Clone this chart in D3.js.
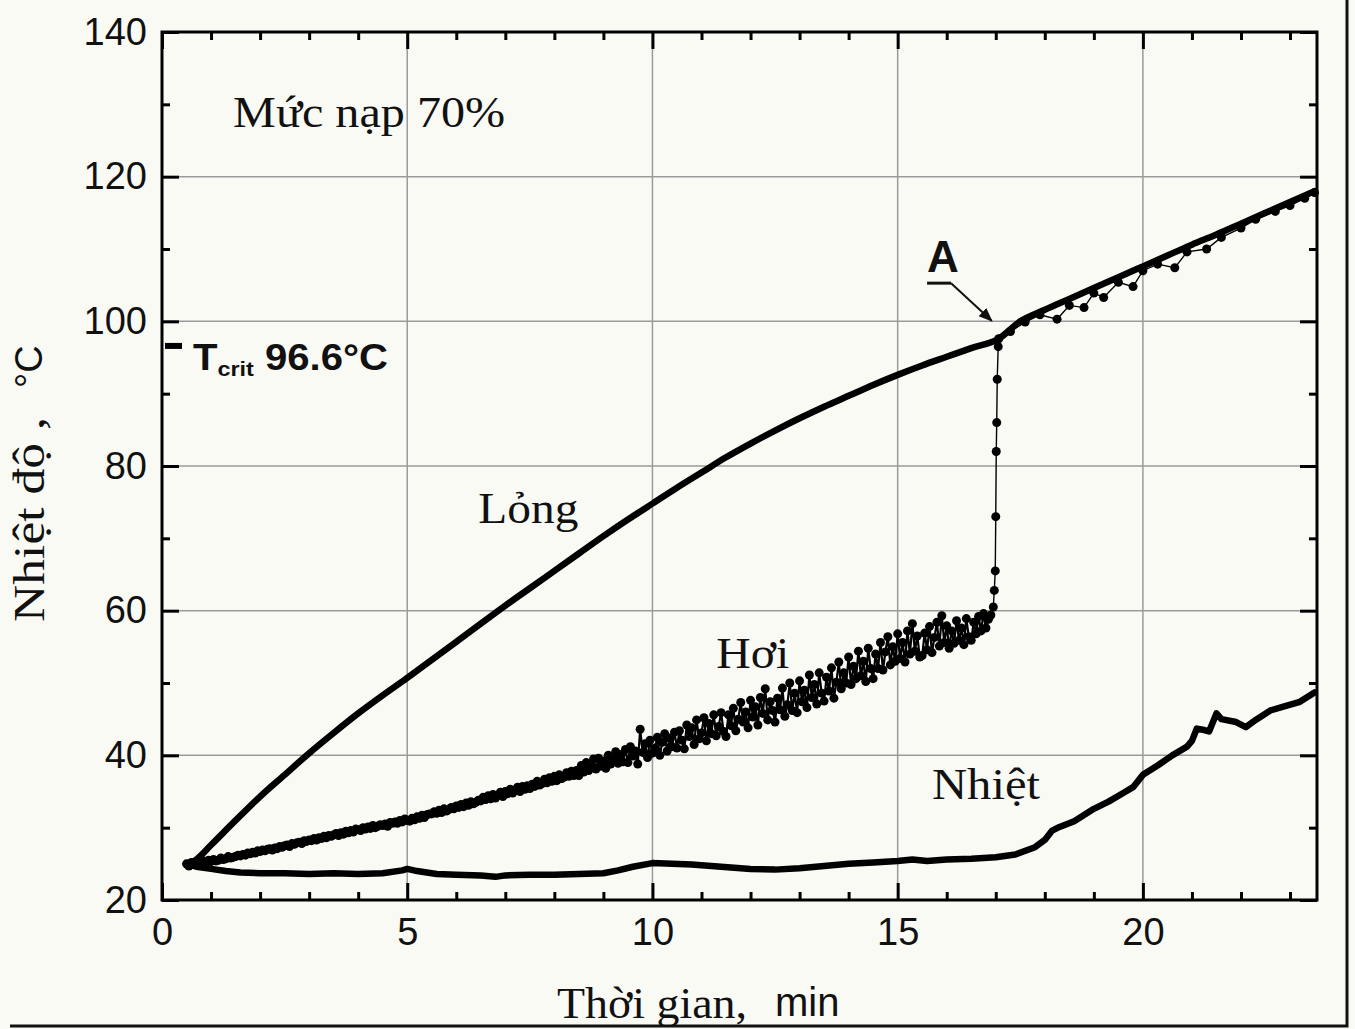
<!DOCTYPE html>
<html>
<head>
<meta charset="utf-8">
<script src="https://cdn.jsdelivr.net/npm/d3@7"></script>
<style>
  body { margin: 0; background: #fafaf5; }
  svg { display: block; }
</style>
</head>
<body>
<div id="viz"></div>
<script>
// ---- data ----
const xTicks = [0, 5, 10, 15, 20]
const yTicks = [20, 40, 60, 80, 100, 120, 140]

// Lỏng (liquid) temperature, [min, °C]
const liquid = [
  [0.5, 24.8], [0.7, 25.6], [1.0, 27.6], [1.5, 31.0], [2.0, 34.3], [2.5, 37.3], [3.0, 40.3],
  [3.5, 43.1], [4.0, 45.8], [4.5, 48.3], [5.0, 50.7], [5.5, 53.2], [6.0, 55.7], [6.5, 58.2],
  [7.0, 60.7], [7.5, 63.1], [8.0, 65.5], [8.5, 67.9], [9.0, 70.3], [9.5, 72.6], [10.0, 74.8],
  [10.5, 77.0], [11.0, 79.1], [11.5, 81.2], [12.0, 83.1], [12.5, 84.9], [13.0, 86.6],
  [13.5, 88.2], [14.0, 89.7], [14.5, 91.2], [15.0, 92.6], [15.5, 93.9], [16.0, 95.1],
  [16.5, 96.3], [17.06, 97.6], [17.5, 100.0], [18.0, 101.6], [18.5, 103.1], [19.0, 104.6],
  [19.5, 106.1], [20.0, 107.6], [20.5, 109.1], [21.0, 110.6], [21.5, 112.0], [22.0, 113.5],
  [22.5, 115.0], [23.0, 116.5], [23.5, 118.0]
]

// Nhiệt (heater) temperature
const heater = [
  [0.5, 25.0], [0.7, 24.6], [1.0, 24.3], [1.3, 24.0], [1.6, 23.8], [2.0, 23.7], [2.5, 23.7],
  [3.0, 23.6], [3.5, 23.7], [4.0, 23.6], [4.5, 23.7], [4.9, 24.1], [5.0, 24.3], [5.2, 24.0],
  [5.6, 23.6], [6.0, 23.5], [6.5, 23.4], [6.8, 23.2], [7.0, 23.4], [7.5, 23.5], [8.0, 23.5],
  [8.5, 23.6], [9.0, 23.7], [9.3, 24.1], [9.6, 24.6], [10.0, 25.1], [10.4, 25.0], [10.8, 24.9],
  [11.2, 24.7], [11.6, 24.5], [12.0, 24.3], [12.5, 24.2], [13.0, 24.4], [13.5, 24.7],
  [14.0, 25.0], [14.5, 25.2], [15.0, 25.4], [15.3, 25.6], [15.6, 25.4], [16.0, 25.6],
  [16.5, 25.7], [17.0, 25.9], [17.4, 26.3], [17.8, 27.3], [18.0, 28.3], [18.15, 29.6],
  [18.3, 30.1], [18.6, 30.9], [19.0, 32.6], [19.3, 33.6], [19.6, 34.8], [19.8, 35.6],
  [20.0, 37.3], [20.3, 38.6], [20.6, 40.0], [20.9, 41.2], [21.0, 42.0], [21.1, 43.7],
  [21.25, 43.5], [21.35, 43.3], [21.5, 45.8], [21.6, 45.0], [21.9, 44.6], [22.1, 43.9],
  [22.3, 44.9], [22.6, 46.2], [22.9, 46.8], [23.2, 47.4], [23.5, 48.7]
]

// Hơi (vapour) samples every 0.05 min from 0.5 to 16.9 min (one row per minute)
const vaporStart = 0.5
const vaporStep = 0.05
const vaporValues = [
  25.0, 24.7, 25.2, 24.9, 25.1, 25.3, 25.0, 25.4, 25.2, 25.5, 25.3, 25.6, 25.4, 25.5, 25.8, 25.6, 25.7, 26.0, 25.8, 25.9,
  26.0, 26.2, 26.1, 26.3, 26.2, 26.5, 26.4, 26.6, 26.5, 26.8, 26.7, 26.9, 26.8, 27.0, 27.1, 26.9, 27.2, 27.1, 27.4, 27.3,
  27.5, 27.6, 27.4, 27.8, 27.7, 27.9, 28.0, 27.8, 28.2, 28.1, 28.3, 28.2, 28.5, 28.3, 28.6, 28.5, 28.8, 28.6, 28.9, 28.8,
  29.0, 29.2, 28.9, 29.3, 29.1, 29.5, 29.3, 29.6, 29.4, 29.8, 29.7, 29.6, 30.0, 29.8, 30.1, 29.9, 30.3, 30.0, 30.2, 30.4,
  30.3, 30.5, 30.2, 30.7, 30.6, 30.8, 30.6, 31.0, 30.8, 31.2, 31.0, 30.9, 31.3, 31.1, 31.5, 31.3, 31.7, 31.4, 31.8, 31.9,
  31.9, 32.2, 32.0, 32.4, 32.1, 32.6, 32.3, 32.5, 32.8, 32.6, 33.0, 32.8, 33.2, 32.9, 33.4, 33.1, 33.6, 33.3, 33.5, 33.8,
  33.7, 34.2, 33.9, 34.4, 34.0, 34.6, 34.1, 34.5, 34.9, 34.3, 35.0, 34.7, 35.3, 34.8, 35.2, 35.6, 35.0, 35.7, 35.3, 35.8,
  35.4, 36.0, 35.7, 36.4, 35.9, 36.1, 36.7, 36.2, 36.9, 36.4, 37.1, 36.5, 37.3, 36.8, 37.0, 37.6, 37.1, 37.8, 37.2, 37.9,
  37.2, 38.6, 37.7, 39.0, 37.9, 38.4, 39.5, 38.1, 39.6, 38.5, 39.2, 38.2, 40.0, 38.8, 39.5, 40.5, 38.9, 40.1, 39.1, 40.8,
  39.0, 41.2, 39.9, 40.6, 38.8, 43.6, 40.4, 41.6, 39.7, 42.1, 40.3, 41.0, 42.5, 40.0, 41.8, 43.0, 40.6, 42.4, 41.2, 43.2,
  41.0, 43.4, 42.1, 40.9, 44.2, 42.6, 43.8, 41.5, 44.9, 42.3, 43.1, 45.2, 42.0, 44.4, 43.0, 45.6, 42.7, 44.0, 45.9, 43.3,
  42.6, 45.6, 44.1, 46.5, 43.4, 45.0, 47.3, 44.6, 46.0, 43.8, 47.6, 45.3, 46.7, 44.2, 48.0, 45.8, 49.2, 44.9, 47.4, 46.2,
  44.6, 47.9, 46.3, 49.3, 45.4, 47.0, 50.0, 46.2, 48.6, 45.9, 50.3, 47.4, 49.0, 46.6, 51.1, 48.0, 49.8, 47.1, 51.4, 48.6,
  47.5, 50.8, 48.9, 52.1, 47.9, 50.1, 52.9, 49.2, 51.4, 50.0, 53.6, 49.8, 52.3, 50.6, 54.4, 51.0, 53.0, 50.2, 54.8, 52.0,
  50.6, 54.0, 52.0, 55.6, 51.8, 54.3, 56.4, 52.5, 55.0, 53.0, 56.8, 53.4, 55.6, 52.9, 57.2, 54.0, 58.2, 54.4, 56.5, 53.6,
  53.8, 56.9, 54.6, 57.8, 54.2, 56.3, 58.4, 55.1, 59.3, 55.6, 57.9, 54.8, 57.2, 55.5, 58.6, 55.9, 57.6, 55.3, 58.9, 56.4,
  55.9, 58.4, 56.8, 59.2, 57.2, 59.6, 57.6, 58.8, 59.4
]
// the jump at point A and the vapour after it
const vaporJump = [
  [16.95, 60.5], [16.97, 62.8], [16.99, 65.5], [17.0, 73.0], [17.01, 82.0], [17.02, 86.0],
  [17.03, 92.0], [17.05, 96.5], [17.06, 97.6]
]
const vaporAfter = [
  [17.3, 98.6], [17.6, 99.9], [17.9, 100.9], [18.25, 100.3], [18.5, 102.2], [18.8, 101.9],
  [19.0, 103.9], [19.2, 103.3], [19.5, 105.4], [19.8, 104.8], [20.0, 107.0], [20.3, 107.9],
  [20.65, 107.4], [20.9, 109.6], [21.3, 110.0], [21.6, 111.6], [22.0, 112.9], [22.3, 114.1],
  [22.7, 115.2], [23.0, 116.0], [23.3, 117.0], [23.5, 117.8]
]

const tCrit = 96.6
const pointA = [17.06, 97.6]

// ---- drawing ----
const W = 1355, H = 1029
const serif = '"Liberation Serif", "Times New Roman", serif'
const sans = '"Liberation Sans", Arial, sans-serif'

const svg = d3.select("#viz").append("svg").attr("width", W).attr("height", H)
svg.append("rect").attr("width", W).attr("height", H).attr("fill", "#fafaf5")

const x = d3.scaleLinear().domain([0, 23.55]).range([162, 1317])
const y = d3.scaleLinear().domain([20, 140]).range([900, 32])

// grid
const grid = svg.append("g").attr("stroke", "#9a9a9a").attr("stroke-width", 1.5)
grid.selectAll(".gx").data(xTicks.filter(d => d > 0)).join("line")
  .attr("x1", d => x(d)).attr("x2", d => x(d)).attr("y1", y(140)).attr("y2", y(20))
grid.selectAll(".gy").data(yTicks.filter(d => d > 20 && d < 140)).join("line")
  .attr("y1", d => y(d)).attr("y2", d => y(d)).attr("x1", x(0)).attr("x2", x.range()[1])

// axes: major + minor ticks, pointing inward, on all four sides
const minorX = d3.range(1, 24).filter(d => d % 5 !== 0)
const minorY = [30, 50, 70, 90, 110, 130]

function styleAxis(g) {
  g.select(".domain").remove()
  g.selectAll(".tick line").attr("stroke", "#000").attr("stroke-width", 3)
  g.selectAll("text").attr("fill", "#111").style("font-family", sans).style("font-size", "38px")
}

const xb = d3.axisBottom(x).tickValues(xTicks).tickSize(-17).tickPadding(18).tickFormat(d3.format("d"))
svg.append("g").attr("transform", `translate(0,${y(20)})`).call(xb).call(styleAxis)
svg.append("g").attr("transform", `translate(0,${y(20)})`)
  .call(d3.axisBottom(x).tickValues(minorX).tickSize(-8).tickFormat("")).call(styleAxis)
svg.append("g").attr("transform", `translate(0,${y(140)})`)
  .call(d3.axisTop(x).tickValues(xTicks).tickSize(-17).tickFormat("")).call(styleAxis)
svg.append("g").attr("transform", `translate(0,${y(140)})`)
  .call(d3.axisTop(x).tickValues(minorX).tickSize(-8).tickFormat("")).call(styleAxis)

const yl = d3.axisLeft(y).tickValues(yTicks).tickSize(-17).tickPadding(15)
svg.append("g").attr("transform", `translate(${x(0)},0)`).call(yl).call(styleAxis)
svg.append("g").attr("transform", `translate(${x(0)},0)`)
  .call(d3.axisLeft(y).tickValues(minorY).tickSize(-8).tickFormat("")).call(styleAxis)
svg.append("g").attr("transform", `translate(${x.range()[1]},0)`)
  .call(d3.axisRight(y).tickValues(yTicks).tickSize(-17).tickFormat("")).call(styleAxis)
svg.append("g").attr("transform", `translate(${x.range()[1]},0)`)
  .call(d3.axisRight(y).tickValues(minorY).tickSize(-8).tickFormat("")).call(styleAxis)

// plot frame
svg.append("rect")
  .attr("x", x(0)).attr("y", y(140))
  .attr("width", x.range()[1] - x(0)).attr("height", y(20) - y(140))
  .attr("fill", "none").attr("stroke", "#000").attr("stroke-width", 3)

// outer picture border (right and bottom edges)
svg.append("path")
  .attr("d", `M10,${H - 3}H${W - 8}V0`)
  .attr("fill", "none").attr("stroke", "#111").attr("stroke-width", 3)

// curves
const line = d3.line().x(d => x(d[0])).y(d => y(d[1]))
svg.append("path").datum(heater).attr("d", line)
  .attr("fill", "none").attr("stroke", "#000").attr("stroke-width", 6.5)
  .attr("stroke-linejoin", "round").attr("stroke-linecap", "round")
svg.append("path").datum(liquid).attr("d", line.curve(d3.curveMonotoneX))
  .attr("fill", "none").attr("stroke", "#000").attr("stroke-width", 6.5)
  .attr("stroke-linejoin", "round").attr("stroke-linecap", "round")
line.curve(d3.curveLinear)

const vaporBulk = vaporValues.map((v, i) => [vaporStart + i * vaporStep, v])
const vapor = vaporBulk.concat(vaporJump, vaporAfter)
// instrument trace: points joined by a thin line
svg.append("path").datum(vaporBulk).attr("d", line)
  .attr("fill", "none").attr("stroke", "#000").attr("stroke-width", 2.2)
svg.append("path").datum([vaporBulk[vaporBulk.length - 1]].concat(vaporJump, vaporAfter)).attr("d", line)
  .attr("fill", "none").attr("stroke", "#000").attr("stroke-width", 1.4)
svg.append("g").selectAll("circle").data(vapor).join("circle")
  .attr("cx", d => x(d[0])).attr("cy", d => y(d[1])).attr("r", 4.5).attr("fill", "#000")

// T crit marker
svg.append("line")
  .attr("x1", x(0) + 3).attr("x2", x(0) + 20).attr("y1", y(tCrit)).attr("y2", y(tCrit))
  .attr("stroke", "#000").attr("stroke-width", 6)
const tc = svg.append("text").attr("x", 193).attr("y", y(tCrit) + 24)
  .attr("textLength", 195).attr("lengthAdjust", "spacingAndGlyphs")
  .style("font-family", sans).style("font-weight", "bold").attr("fill", "#111")
tc.append("tspan").style("font-size", "36px").text("T")
tc.append("tspan").style("font-size", "21px").attr("dy", 6).text("crit")
tc.append("tspan").style("font-size", "36px").attr("dy", -6).text(" 96.6°C")

// point A annotation
const aX = x(15.6), aY = y(106.8)
svg.append("text").attr("x", aX).attr("y", aY)
  .style("font-family", sans).style("font-weight", "bold").style("font-size", "44px")
  .attr("fill", "#111").text("A")
svg.append("line").attr("x1", aX).attr("x2", aX + 24).attr("y1", aY + 11).attr("y2", aY + 11)
  .attr("stroke", "#111").attr("stroke-width", 3)
svg.append("defs").append("marker").attr("id", "arr")
  .attr("viewBox", "0 0 10 10").attr("refX", 9).attr("refY", 5)
  .attr("markerWidth", 7).attr("markerHeight", 7).attr("orient", "auto")
  .append("path").attr("d", "M0,1L10,5L0,9z").attr("fill", "#111")
svg.append("line")
  .attr("x1", aX + 24).attr("y1", aY + 11)
  .attr("x2", x(pointA[0]) - 7).attr("y2", y(pointA[1]) - 18)
  .attr("stroke", "#111").attr("stroke-width", 2).attr("marker-end", "url(#arr)")

// labels inside the plot
const labels = [
  { text: "Mức nạp 70%", t: 1.45, v: 126.9, w: 272 },
  { text: "Lỏng", t: 6.45, v: 72.1, w: 100 },
  { text: "Hơi", t: 11.3, v: 52.1, w: 73 },
  { text: "Nhiệt", t: 15.7, v: 34.0, w: 108 }
]
svg.append("g").selectAll("text").data(labels).join("text")
  .attr("x", d => x(d.t)).attr("y", d => y(d.v))
  .attr("textLength", d => d.w).attr("lengthAdjust", "spacingAndGlyphs")
  .style("font-family", serif).style("font-size", "44px").attr("fill", "#111")
  .text(d => d.text)

// axis titles
svg.append("text").attr("x", 557).attr("y", 1018)
  .attr("textLength", 190).attr("lengthAdjust", "spacingAndGlyphs")
  .style("font-family", serif).style("font-size", "44px").attr("fill", "#111")
  .text("Thời gian,")
svg.append("text").attr("x", 775).attr("y", 1016)
  .style("font-family", sans).style("font-size", "40px").attr("fill", "#111")
  .text("min")

svg.append("text").attr("transform", "translate(44,622) rotate(-90)")
  .attr("textLength", 205).attr("lengthAdjust", "spacingAndGlyphs")
  .style("font-family", serif).style("font-size", "44px").attr("fill", "#111")
  .text("Nhiệt độ ,")
svg.append("text").attr("transform", "translate(42,388) rotate(-90)")
  .style("font-family", sans).style("font-size", "38px").attr("fill", "#111")
  .text("°C")
</script>
</body>
</html>
